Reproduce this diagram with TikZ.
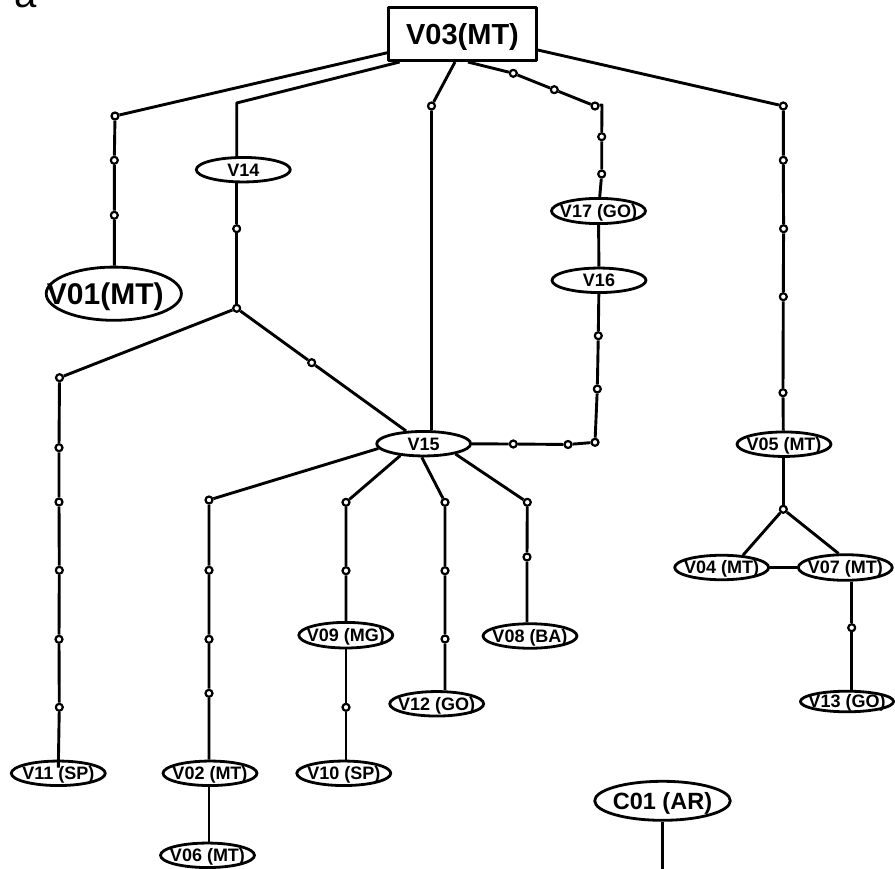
\documentclass[tikz,border=0pt]{standalone}
\usepackage{fontspec}
\setmainfont{Liberation Sans}
\usetikzlibrary{shapes.geometric}

% label text that does not affect the node size, caps centred vertically
\newcommand\vlab[1]{\makebox[0pt]{\smash{\raisebox{-0.36em}{#1}}}}

\begin{document}
\begin{tikzpicture}[x=1pt,y=-1pt,
  line width=2.9pt, line join=round,
  vx/.style={ellipse, draw, fill=white, line width=2.8pt, inner sep=0pt,
    minimum width=94pt, minimum height=24.5pt,
    font=\bfseries\fontsize{18}{18}\selectfont},
  dot/.style={circle, draw, fill=white, line width=2.2pt, inner sep=0pt, minimum size=7pt},
  hub/.style={rectangle, draw, fill=white, line width=2.8pt, inner sep=0pt,
    minimum width=148.2pt, minimum height=53.2pt,
    font=\bfseries\fontsize{29}{29}\selectfont}
]
\useasboundingbox (0,0) rectangle (895,869);

% panel letter
\node[anchor=base west, inner sep=0pt, font=\fontsize{40}{40}\selectfont] (panel) at (13.5,8) {a};

% vertices
\node[hub] (V03) at (462.5,34) {\vlab{V03(MT)}};
\node[vx, minimum width=135.2pt, minimum height=53.2pt,
      font=\bfseries\fontsize{30}{30}\selectfont] (V01) at (113.8,293.7) {\vlab{\kern-17pt V01(MT)}};
\node[vx] (V14) at (243.3,169.7) {\vlab{V14}};
\node[vx, minimum height=25.2pt] (V17) at (598.5,211) {\vlab{V17 (GO)}};
\node[vx] (V16) at (599,280.3) {\vlab{V16}};
\node[vx] (V15) at (423.7,443.7) {\vlab{V15}};
\node[vx] (V05) at (784,444.2) {\vlab{V05 (MT)}};
\node[vx] (V04) at (721.7,567.5) {\vlab{V04 (MT)}};
\node[vx, minimum height=25.6pt] (V07) at (845.3,567.5) {\vlab{V07 (MT)}};
\node[vx, minimum width=93.2pt, minimum height=20.6pt] (V13) at (847,701.5) {\vlab{V13 (GO)}};
\node[vx, minimum height=25.6pt] (V09) at (345.8,635.2) {\vlab{V09 (MG)}};
\node[vx] (V08) at (530,636) {\vlab{V08 (BA)}};
\node[vx] (V12) at (436.7,703.8) {\vlab{V12 (GO)}};
\node[vx] (V11) at (58.3,773.3) {\vlab{V11 (SP)}};
\node[vx] (V02) at (210,773.3) {\vlab{V02 (MT)}};
\node[vx] (V10) at (343.8,773.3) {\vlab{V10 (SP)}};
\node[vx] (V06) at (207.5,855.3) {\vlab{V06 (MT)}};
\node[vx, minimum width=135.6pt, minimum height=39pt,
      font=\bfseries\fontsize{23.5}{23.5}\selectfont] (C01) at (662.5,800.8) {\vlab{C01 (AR)}};

% junction dots
\node[dot] (d1a) at (115,116) {};
\node[dot] (d1b) at (114.3,160.3) {};
\node[dot] (d1c) at (114.3,215.3) {};
\node[dot] (d14a) at (236.7,228.7) {};
\node[dot] (j14) at (236.7,308.3) {};
\node[dot] (d11a) at (59.5,377.7) {};
\node[dot] (d11b) at (59,447.7) {};
\node[dot] (d11c) at (59,502) {};
\node[dot] (d11d) at (59.3,570.3) {};
\node[dot] (d11e) at (59,639.3) {};
\node[dot] (d11f) at (59.3,707.3) {};
\node[dot] (d15m) at (311.7,362.7) {};
\node[dot] (j3) at (431.5,106) {};
\node[dot] (dr1) at (513.3,73.3) {};
\node[dot] (dr2) at (554.3,89.7) {};
\node[dot] (dr3) at (595,106) {};
\node[dot] (dr4) at (601.7,136.7) {};
\node[dot] (dr5) at (601.7,174) {};
\node[dot] (d16a) at (598.3,335.7) {};
\node[dot] (d16b) at (597.3,389) {};
\node[dot] (d16c) at (595,442.3) {};
\node[dot] (d16d) at (568,444.5) {};
\node[dot] (d16e) at (513.3,444) {};
\node[dot] (j5) at (783.3,106) {};
\node[dot] (d5a) at (783.3,160.3) {};
\node[dot] (d5b) at (783.6,228.7) {};
\node[dot] (d5c) at (783.3,296.7) {};
\node[dot] (d5d) at (783,392.7) {};
\node[dot] (j5b) at (783.3,509.3) {};
\node[dot] (d7) at (851.7,627.7) {};
\node[dot] (d2a) at (209,500) {};
\node[dot] (d2b) at (209,570.3) {};
\node[dot] (d2c) at (209,639.3) {};
\node[dot] (d2d) at (209,693.3) {};
\node[dot] (d9a) at (346,502.3) {};
\node[dot] (d9b) at (346,570.7) {};
\node[dot] (d9c) at (346,707.3) {};
\node[dot] (d12a) at (445,502.3) {};
\node[dot] (d12b) at (445,570.7) {};
\node[dot] (d12c) at (445,639) {};
\node[dot] (d8a) at (527.3,502.3) {};
\node[dot] (d8b) at (527,557) {};

% bends and free ends
\coordinate (c14) at (236.7,103);
\coordinate (cr) at (602,105);
\coordinate (v11in) at ([yshift=-8pt]V11.north);
\coordinate (cbot) at (662.5,880);

% connectors
\draw (d1a) -- (V03.194);
\draw (d1a) -- (d1b) -- (d1c) -- (d1c |- V01.north);

\draw (V03.204) -- (c14) -- (c14 |- V14.north);
\draw (d14a |- V14.south) -- (d14a) -- (j14);
\draw (j14) -- (d11a) -- (d11b) -- (d11c) -- (d11d) -- (d11e) -- (d11f) -- (v11in);
\draw (j14) -- (d15m) -- (V15);

\draw (V03.255) -- (j3) -- (j3 |- V15.north);

\draw (V03.281) -- (dr1) -- (dr2) -- (dr3) -- (cr) -- (dr4) -- (dr5) -- (V17);
\draw (V17) -- (V16);
\draw (V16) -- (d16a) -- (d16b) -- (d16c) -- (d16d) -- (d16e) -- (V15);

\draw (V03.-12) -- (j5) -- (d5a) -- (d5b) -- (d5c) -- (d5d) -- (j5 |- V05.north);
\draw (j5b |- V05.south) -- (j5b);
\draw (j5b) -- (V04.30);
\draw (j5b) -- (V07.116);
\draw (V04) -- (V07);
\draw (d7 |- V07.south) -- (d7) -- (d7 |- V13.north);

\draw (V15.186) -- (d2a) -- (d2b) -- (d2c) -- (d2d) -- (d2d |- V02.north);
\draw (d2d |- V02.south) -- (d2d |- V06.north);
\draw (V15.207) -- (d9a) -- (d9b) -- (d9b |- V09.north);
\draw (d9c |- V09.south) -- (d9c) -- (d9c |- V10.north);
\draw (V15.262) -- (d12a) -- (d12b) -- (d12c) -- (d12c |- V12.north);
\draw (V15.342) -- (d8a) -- (d8b) -- (d8b |- V08.north);

\draw (C01.south) -- (cbot);
\end{tikzpicture}
\end{document}
